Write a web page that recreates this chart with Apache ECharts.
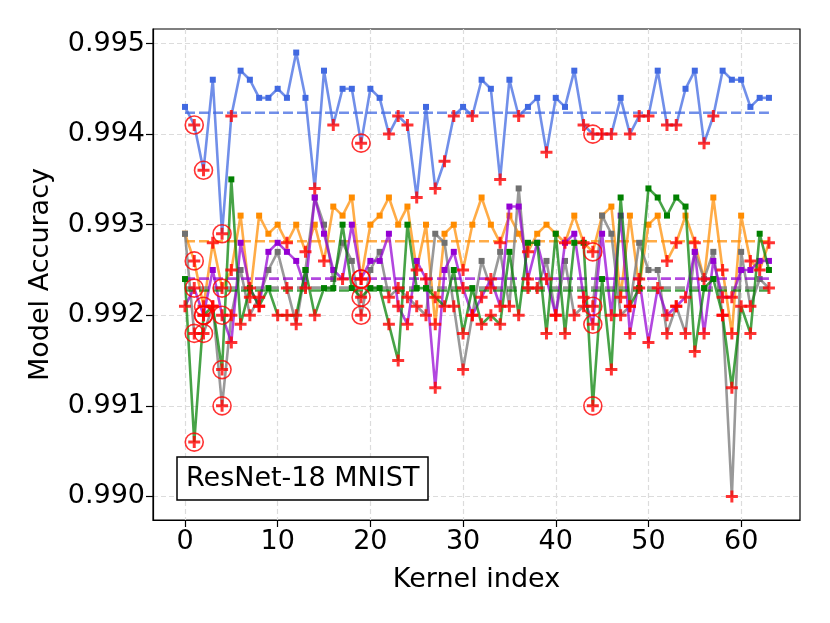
<!DOCTYPE html>
<html>
<head>
<meta charset="utf-8">
<script src="https://cdn.jsdelivr.net/npm/echarts@6/dist/echarts.min.js"></script>
<style>
html,body{margin:0;padding:0;background:#fff}
#chart{width:830px;height:623px}
</style>
</head>
<body>
<div id="chart"></div>
<script>
// accuracy per kernel index
var blueAcc = [0.9943,0.9941,0.9936,0.9946,0.9929,0.9942,0.9947,0.9946,0.9944,0.9944,0.9945,0.9944,0.9949,0.9944,0.9934,0.9947,
  0.9941,0.9945,0.9945,0.9939,0.9945,0.9944,0.9940,0.9942,0.9941,0.9933,0.9943,0.9934,0.9937,0.9942,0.9943,0.9942,
  0.9946,0.9945,0.9935,0.9946,0.9942,0.9943,0.9944,0.9938,0.9944,0.9943,0.9947,0.9941,0.9940,0.9940,0.9940,0.9944,
  0.9940,0.9942,0.9942,0.9947,0.9941,0.9941,0.9945,0.9947,0.9939,0.9942,0.9947,0.9946,0.9946,0.9943,0.9944,0.9944];
var orangeAcc = [0.9929,0.9926,0.9921,0.9928,0.9923,0.9925,0.9931,0.9922,0.9931,0.9929,0.9930,0.9928,0.9930,0.9927,0.9930,0.9926,
  0.9932,0.9931,0.9933,0.9924,0.9930,0.9931,0.9933,0.9930,0.9932,0.9925,0.9930,0.9919,0.9929,0.9930,0.9925,0.9930,
  0.9933,0.9930,0.9928,0.9931,0.9929,0.9927,0.9929,0.9930,0.9929,0.9928,0.9931,0.9928,0.9927,0.9931,0.9932,0.9922,
  0.9931,0.9923,0.9930,0.9931,0.9926,0.9928,0.9931,0.9928,0.9924,0.9933,0.9925,0.9918,0.9931,0.9926,0.9925,0.9928];
var grayAcc = [0.9929,0.9918,0.9918,0.9921,0.9910,0.9920,0.9925,0.9920,0.9922,0.9925,0.9927,0.9923,0.9919,0.9925,0.9933,0.9930,
  0.9924,0.9928,0.9926,0.9920,0.9925,0.9927,0.9922,0.9923,0.9922,0.9921,0.9920,0.9929,0.9928,0.9921,0.9914,0.9920,
  0.9926,0.9923,0.9927,0.9921,0.9934,0.9923,0.9923,0.9926,0.9920,0.9926,0.9920,0.9921,0.9921,0.9931,0.9929,0.9920,
  0.9921,0.9928,0.9925,0.9925,0.9918,0.9921,0.9918,0.9927,0.9924,0.9927,0.9920,0.9900,0.9927,0.9921,0.9924,0.9923];
var purpleAcc = [0.9921,0.9923,0.9920,0.9925,0.9920,0.9917,0.9928,0.9923,0.9921,0.9927,0.9928,0.9927,0.9926,0.9923,0.9933,0.9929,
  0.9925,0.9924,0.9930,0.9924,0.9926,0.9926,0.9929,0.9921,0.9919,0.9926,0.9924,0.9912,0.9925,0.9927,0.9923,0.9920,
  0.9922,0.9924,0.9921,0.9932,0.9932,0.9924,0.9928,0.9924,0.9920,0.9928,0.9929,0.9922,0.9919,0.9929,0.9920,0.9931,
  0.9918,0.9924,0.9917,0.9923,0.9920,0.9921,0.9922,0.9927,0.9918,0.9926,0.9922,0.9922,0.9925,0.9925,0.9926,0.9926];
var greenAcc = [0.9924,0.9906,0.9920,0.9921,0.9914,0.9935,0.9919,0.9923,0.9921,0.9923,0.9920,0.9920,0.9920,0.9925,0.9920,0.9923,
  0.9923,0.9930,0.9923,0.9922,0.9923,0.9923,0.9919,0.9915,0.9930,0.9923,0.9923,0.9922,0.9921,0.9925,0.9918,0.9923,
  0.9919,0.9920,0.9919,0.9927,0.9920,0.9928,0.9928,0.9918,0.9929,0.9918,0.9928,0.9928,0.9910,0.9924,0.9914,0.9933,
  0.9921,0.9923,0.9934,0.9933,0.9931,0.9933,0.9932,0.9916,0.9923,0.9924,0.9920,0.9912,0.9921,0.9918,0.9929,0.9925];

var circled = [1, 2, 4, 19, 44];
var xTicks = [0, 10, 20, 30, 40, 50, 60];
var yTicks = [0.990, 0.991, 0.992, 0.993, 0.994, 0.995];

var groups = [
  {acc: blueAcc,   mark: '#4169e1', line: 'rgba(65,105,225,0.75)'},
  {acc: orangeAcc, mark: '#ff8c00', line: 'rgba(255,140,0,0.72)'},
  {acc: grayAcc,   mark: '#707070', line: 'rgba(128,128,128,0.8)'},
  {acc: purpleAcc, mark: '#9400d3', line: 'rgba(148,0,211,0.72)'},
  {acc: greenAcc,  mark: '#008000', line: 'rgba(0,128,0,0.72)'}
];

var plusPath = 'path://M3.75,0H6.25V3.75H10V6.25H6.25V10H3.75V6.25H0V3.75H3.75Z';
var series = [];
var plusPts = [];
var circlePts = [];

groups.forEach(function(g, k) {
  var sum = 0;
  g.acc.forEach(function(v) { sum += v; });
  var mean = sum / g.acc.length;
  var pts = g.acc.map(function(v, i) {
    var below = v < mean;
    if (below) plusPts.push([i, v]);
    return {value: [i, v], symbol: below ? 'none' : 'rect'};
  });
  circled.forEach(function(i) { circlePts.push([i, g.acc[i]]); });
  series.push({
    type: 'line', data: pts, symbolSize: 6, showAllSymbol: true,
    itemStyle: {color: g.mark},
    lineStyle: {color: g.line, width: 2.6},
    z: 2 + k, animation: false
  });
  series.push({
    type: 'line', data: [[0, mean], [g.acc.length - 1, mean]], symbol: 'none',
    lineStyle: {color: g.line, width: 2.6, type: [10, 4]},
    z: 2 + k, animation: false
  });
});

series.push({
  type: 'scatter', data: plusPts, symbol: plusPath, symbolSize: 12,
  itemStyle: {color: '#ff0000'}, z: 20, animation: false
});
series.push({
  type: 'scatter', data: circlePts, symbol: 'circle', symbolSize: 18,
  itemStyle: {color: 'rgba(0,0,0,0)', borderColor: '#ff0000', borderWidth: 1.6},
  z: 21, animation: false
});

var font = 'DejaVu Sans';
var chart = echarts.init(document.getElementById('chart'));
chart.setOption({
  backgroundColor: '#fff',
  animation: false,
  title: {
    text: 'ResNet-18 MNIST', left: 177, top: 457,
    padding: [8, 9, 8, 9], borderColor: '#000', borderWidth: 1.5, backgroundColor: '#fff',
    textStyle: {fontFamily: font, fontSize: 27, fontWeight: 'normal', color: '#000', lineHeight: 27}
  },
  grid: {left: 153, right: 30, top: 29, bottom: 103, show: true, borderColor: '#000', borderWidth: 1.2},
  xAxis: {
    type: 'value', min: -3.45, max: 66.35,
    name: 'Kernel index', nameLocation: 'middle', nameGap: 46,
    nameTextStyle: {fontFamily: font, fontSize: 27, color: '#000'},
    axisLine: {show: true, onZero: false, lineStyle: {color: '#000', width: 1.2}},
    axisTick: {show: true, customValues: xTicks, length: 7, lineStyle: {color: '#000', width: 1.2}},
    axisLabel: {customValues: xTicks, fontFamily: font, fontSize: 27, color: '#000', margin: 8},
    splitLine: {show: true, lineStyle: {color: '#dcdcdc', width: 1.2, type: [5, 3]}}
  },
  yAxis: {
    type: 'value', min: 0.98974, max: 0.99516,
    name: 'Model Accuracy', nameLocation: 'middle', nameGap: 99,
    nameTextStyle: {fontFamily: font, fontSize: 27, color: '#000'},
    axisLine: {show: true, onZero: false, lineStyle: {color: '#000', width: 1.2}},
    axisTick: {show: true, customValues: yTicks, length: 7, lineStyle: {color: '#000', width: 1.2}},
    axisLabel: {customValues: yTicks, fontFamily: font, fontSize: 27, color: '#000', margin: 8,
      formatter: function(v) { return v.toFixed(3); }},
    splitLine: {show: true, lineStyle: {color: '#dcdcdc', width: 1.2, type: [5, 3]}}
  },
  series: series
});
</script>
</body>
</html>
